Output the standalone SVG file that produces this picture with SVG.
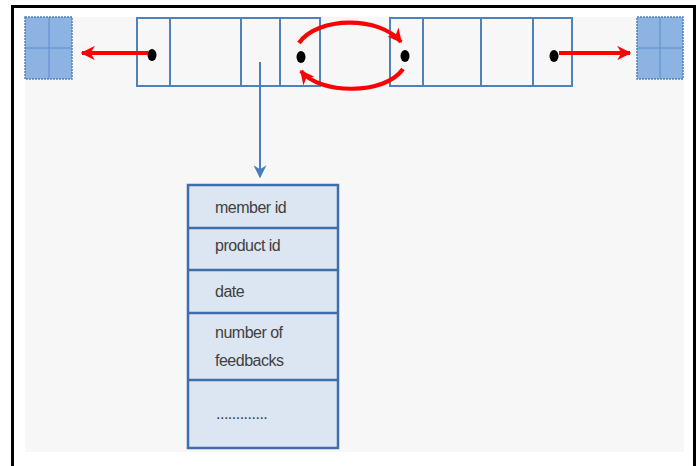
<svg xmlns="http://www.w3.org/2000/svg" width="699" height="466" viewBox="0 0 699 466">
  <defs>
    <marker id="redHead" viewBox="0 0 10 10" refX="9" refY="5" markerWidth="3.4" markerHeight="3.4" orient="auto" markerUnits="strokeWidth">
      <path d="M0,0 L10,5 L0,10 L3,5 Z" fill="#ff0000"/>
    </marker>
    <marker id="blueHead" viewBox="0 0 10 10" refX="9" refY="5" markerWidth="6.5" markerHeight="6.5" orient="auto" markerUnits="strokeWidth">
      <path d="M0,0 L10,5 L0,10 L3,5 Z" fill="#4a7ebb"/>
    </marker>
    <style>
      .frame { fill: none; stroke: #000; stroke-width: 3; }
      .cell { fill: #f7f7f7; stroke: #4f81bd; stroke-width: 2; }
      .ptr { fill: #000; }
      .ext { fill: #8db3e2; stroke: #4f81bd; stroke-width: 1.5; stroke-dasharray: 2 1; }
      .extgrid { stroke: #5b8ccc; stroke-width: 1; fill: none; }
      .red { fill: none; stroke: #ff0000; stroke-width: 4.2; marker-end: url(#redHead); }
      .blue { fill: none; stroke: #4a7ebb; stroke-width: 2; marker-end: url(#blueHead); }
      .field { fill: #dce6f2; stroke: #3f6ea8; stroke-width: 2.5; }
      .label { font-family: "Liberation Sans", Arial, sans-serif; font-size: 16px; letter-spacing: -0.5px; fill: #404040; }
    </style>
  </defs>

  <!-- page -->
  <rect x="0" y="0" width="699" height="466" fill="#ffffff"/>
  <rect x="25" y="17" width="659" height="435" fill="#f7f7f7"/>
  <path class="frame" d="M12.5,466 V6.5 H694.5 V466"/>

  <!-- external blocks -->
  <g id="leftBlock">
    <rect class="ext" x="25" y="17" width="47" height="62"/>
    <path class="extgrid" d="M49,18 V78 M26,48 H71"/>
  </g>
  <g id="rightBlock">
    <rect class="ext" x="637" y="17" width="46" height="62"/>
    <path class="extgrid" d="M660,18 V78 M638,48 H682"/>
  </g>

  <!-- left array -->
  <g id="leftArray">
    <rect class="cell" x="137" y="18" width="183" height="68"/>
    <path d="M170,18 V86 M241,18 V86 M280,18 V86" stroke="#4f81bd" stroke-width="2"/>
    <ellipse class="ptr" cx="152" cy="55" rx="4.5" ry="6"/>
    <ellipse class="ptr" cx="301" cy="57" rx="4.5" ry="6"/>
  </g>

  <!-- right array -->
  <g id="rightArray">
    <rect class="cell" x="390" y="18" width="182" height="68"/>
    <path d="M423,18 V86 M481,18 V86 M533,18 V86" stroke="#4f81bd" stroke-width="2"/>
    <ellipse class="ptr" cx="405" cy="56" rx="4.5" ry="6"/>
    <ellipse class="ptr" cx="554" cy="56" rx="4.5" ry="6"/>
  </g>

  <!-- record -->
  <g id="record">
    <rect class="field" x="188" y="185" width="150" height="263"/>
    <path d="M188,228 H338 M188,270 H338 M188,313 H338 M188,380 H338" stroke="#3f6ea8" stroke-width="2.5"/>
    <text class="label" x="215" y="213">member id</text>
    <text class="label" x="215" y="251">product id</text>
    <text class="label" x="215" y="297">date</text>
    <text class="label" x="215" y="338">number of</text>
    <text class="label" x="215" y="366">feedbacks</text>
    <text class="label" x="216" y="419" font-size="9" letter-spacing="-0.6">.............</text>
  </g>

  <!-- connectors -->
  <g id="connectors">
    <path class="red" d="M148,53 H82"/>
    <path class="red" d="M559,53 H630"/>
    <path class="red" d="M299,43 C318,16 380,16 401,42"/>
    <path class="red" d="M403,69 C385,95 320,95 301,71"/>
    <path class="blue" d="M260,62 V177"/>
  </g>
</svg>
